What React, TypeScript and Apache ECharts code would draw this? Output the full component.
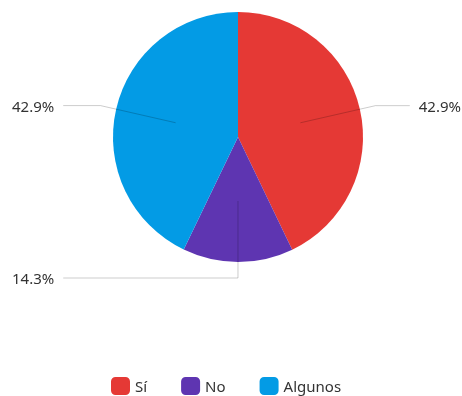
import React, { useEffect, useRef } from "react";
import * as echarts from "echarts";

const categories = ["Sí", "No", "Algunos"];
const values = [3, 1, 3];
const colors = ["#e53935", "#5e35b1", "#039be5"];

export default function App() {
  const ref = useRef<HTMLDivElement>(null);
  useEffect(() => {
    const chart = echarts.init(ref.current!, null, { renderer: "svg" });
    const data = categories.map((c, i) => ({ name: c, value: values[i] }));
    const font = "'Noto Sans', 'Open Sans', sans-serif";
    chart.setOption({
      animation: false,
      color: colors,
      textStyle: { fontFamily: font },
      legend: {
        data: categories,
        top: 377,
        left: 111,
        padding: 0,
        icon: "roundRect",
        itemWidth: 19,
        itemHeight: 18,
        itemGap: 34,
        textStyle: { fontSize: 15, color: "#333", fontFamily: font },
      },
      series: [
        {
          type: "pie",
          left: 12,
          right: 1,
          top: 0,
          bottom: 0,
          center: [226, 137],
          radius: 125,
          startAngle: 89.99,
          clockwise: true,
          silent: true,
          label: { show: false },
          labelLine: { show: false },
          itemStyle: { borderWidth: 0 },
          data,
          z: 1,
        },
        {
          type: "pie",
          left: 12,
          right: 1,
          top: 0,
          bottom: 0,
          center: [226, 137],
          radius: 64,
          startAngle: 89.99,
          clockwise: true,
          silent: true,
          legendHoverLink: false,
          itemStyle: { color: "rgba(0,0,0,0)", borderWidth: 0 },
          label: {
            show: true,
            position: "outside",
            alignTo: "edge",
            edgeDistance: 0,
            formatter: (p: any) => p.percent.toFixed(1) + "%",
            fontSize: 15,
            color: "#333",
            fontFamily: font,
            distanceToLabelLine: 9,
            padding: [0, 0, 3, 0],
          },
          labelLine: {
            show: true,
            length: 77,
            length2: 20,
            lineStyle: { color: "rgba(0,0,0,0.2)", width: 1 },
          },
          data,
          z: 2,
        },
      ],
    });
    return () => chart.dispose();
  }, []);
  return (
    <div
      ref={ref}
      style={{ position: "fixed", left: 0, top: 0, width: 462, height: 396 }}
    />
  );
}
